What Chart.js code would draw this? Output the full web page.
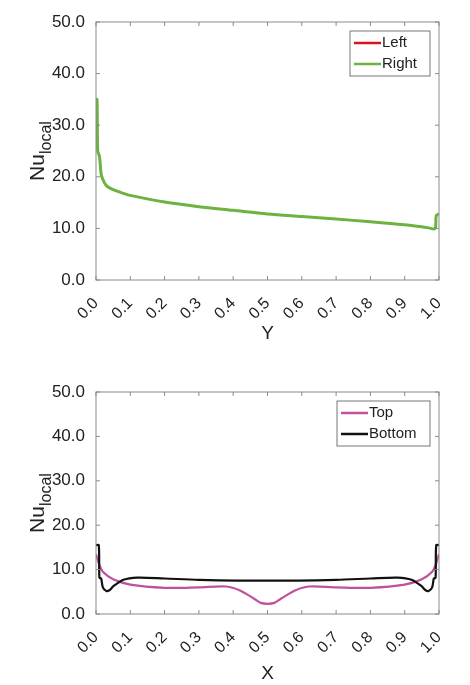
<!DOCTYPE html>
<html>
<head>
<meta charset="utf-8">
<script src="https://cdn.jsdelivr.net/npm/chart.js@4"></script>
<style>
  body { margin: 0; background: #fff; }
  .box { position: absolute; left: 0; width: 470px; }
</style>
</head>
<body>
<div class="box" style="top:0;height:345px"><canvas id="topChart"></canvas></div>
<div class="box" style="top:360px;height:325px"><canvas id="bottomChart"></canvas></div>
<script>
// Vertical walls (Y position)
const wallY = [0, 0.003, 0.005, 0.01, 0.015, 0.02, 0.03, 0.05, 0.08, 0.1, 0.2, 0.3, 0.4, 0.5, 0.6, 0.7, 0.8, 0.9, 0.97, 0.985, 0.99, 0.992, 1.0];
const leftNu = [35, 35, 25, 24, 20.5, 19.5, 18.3, 17.5, 16.8, 16.4, 15.1, 14.2, 13.5, 12.8, 12.3, 11.8, 11.3, 10.7, 10.1, 9.9, 10.2, 12.5, 12.8];
const rightNu = [35, 35, 25, 24, 20.5, 19.5, 18.3, 17.5, 16.8, 16.4, 15.1, 14.2, 13.5, 12.8, 12.3, 11.8, 11.3, 10.7, 10.1, 9.9, 10.2, 12.5, 12.8];

// Horizontal walls (X position)
const topX = [0, 0.01, 0.02, 0.05, 0.1, 0.2, 0.3, 0.38, 0.42, 0.46, 0.48, 0.5, 0.52, 0.54, 0.58, 0.62, 0.7, 0.8, 0.9, 0.95, 0.98, 0.99, 1.0];
const topNu = [13.5, 11, 9.5, 7.8, 6.6, 5.9, 6.0, 6.2, 5.3, 3.5, 2.5, 2.3, 2.5, 3.5, 5.3, 6.2, 6.0, 5.9, 6.6, 7.8, 9.5, 11, 13.5];
const bottomX = [0, 0.008, 0.01, 0.015, 0.02, 0.03, 0.04, 0.05, 0.08, 0.12, 0.2, 0.3, 0.5, 0.7, 0.8, 0.88, 0.92, 0.95, 0.96, 0.97, 0.98, 0.985, 0.99, 0.992, 1.0];
const bottomNu = [15.5, 15.5, 8.2, 8, 6, 5.2, 5.4, 6.2, 7.7, 8.2, 8.0, 7.7, 7.5, 7.7, 8.0, 8.2, 7.7, 6.2, 5.4, 5.2, 6, 8, 8.2, 15.5, 15.5];

const FONT = "'Liberation Sans', Arial, sans-serif";

function pts(xs, ys) {
    return xs.map((x, i) => ({ x: x, y: ys[i] }));
}

/**
 * @brief Frame, inner tick marks, y title and legend box.
 */
const decorPlugin = {
    id: 'decor',
    afterDraw(chart, args, opts) {
        const c = chart.ctx;
        const a = chart.chartArea;
        const xs = chart.scales.x, ys = chart.scales.y;
        c.save();
        c.strokeStyle = '#8a8a8a';
        c.lineWidth = 1;
        c.strokeRect(a.left, a.top, a.right - a.left, a.bottom - a.top);
        c.beginPath();
        for (let v = 0; v <= 1.0001; v += 0.1) {
            const p = xs.getPixelForValue(v);
            c.moveTo(p, a.bottom); c.lineTo(p, a.bottom - 4);
            c.moveTo(p, a.top); c.lineTo(p, a.top + 4);
        }
        for (let v = 0; v <= 50; v += 10) {
            const p = ys.getPixelForValue(v);
            c.moveTo(a.left, p); c.lineTo(a.left + 4, p);
            c.moveTo(a.right, p); c.lineTo(a.right - 4, p);
        }
        c.stroke();

        // y title: Nu with subscript "local"
        c.fillStyle = '#222';
        c.translate(44, (a.top + a.bottom) / 2);
        c.rotate(-Math.PI / 2);
        c.font = '21px ' + FONT;
        c.textBaseline = 'alphabetic';
        const w1 = c.measureText('Nu').width;
        c.font = '16px ' + FONT;
        const w2 = c.measureText('local').width;
        const sx = -(w1 + w2) / 2;
        c.font = '21px ' + FONT;
        c.fillText('Nu', sx, 0);
        c.font = '16px ' + FONT;
        c.fillText('local', sx + w1, 7);
        c.restore();

        // legend
        c.save();
        const lx = opts.x, ly = a.top + 9, lw = a.right - 9 - lx, lh = 45;
        c.fillStyle = '#fff';
        c.fillRect(lx, ly, lw, lh);
        c.strokeStyle = '#777';
        c.strokeRect(lx, ly, lw, lh);
        c.font = '15px ' + FONT;
        c.textBaseline = 'middle';
        const shown = chart.data.datasets.slice().sort((p, q) => p.legendIndex - q.legendIndex);
        shown.forEach((ds, i) => {
            const yy = ly + 12 + i * 21;
            c.strokeStyle = ds.borderColor;
            c.lineWidth = 2.5;
            c.beginPath();
            c.moveTo(lx + 4, yy); c.lineTo(lx + 31, yy);
            c.stroke();
            c.fillStyle = '#222';
            c.fillText(ds.label, lx + 32, yy);
        });
        c.restore();
    }
};

function makeChart(id, datasets, xTitle, padTop, xHeight, legendX) {
    return new Chart(document.getElementById(id), {
        type: 'line',
        data: { datasets: datasets },
        plugins: [decorPlugin],
        options: {
            animation: false,
            responsive: true,
            maintainAspectRatio: false,
            layout: { padding: { top: padTop, right: 31, left: 0, bottom: 0 } },
            elements: { point: { radius: 0 }, line: { borderWidth: 2.2, tension: 0.3 } },
            plugins: {
                legend: { display: false },
                tooltip: { enabled: false },
                decor: { x: legendX }
            },
            scales: {
                x: {
                    type: 'linear', min: 0, max: 1,
                    grid: { display: false },
                    border: { display: false },
                    ticks: {
                        stepSize: 0.1, maxRotation: 45, minRotation: 45, padding: 6,
                        color: '#222', font: { family: FONT, size: 16 },
                        callback: v => v.toFixed(1)
                    },
                    title: { display: true, text: xTitle, color: '#222', font: { family: FONT, size: 19 }, padding: 0 },
                    afterFit: s => { s.height = xHeight; }
                },
                y: {
                    min: 0, max: 50,
                    grid: { display: false },
                    border: { display: false },
                    ticks: {
                        stepSize: 10, color: '#222', font: { family: FONT, size: 17 },
                        callback: v => v.toFixed(1)
                    },
                    afterFit: s => { s.width = 96; }
                }
            }
        }
    });
}

makeChart('topChart', [
    { label: 'Left', legendIndex: 0, order: 1, borderWidth: 1.5, data: pts(wallY, leftNu), borderColor: '#e0101a' },
    { label: 'Right', legendIndex: 1, order: 0, borderWidth: 3, data: pts(wallY, rightNu), borderColor: '#6cb33f' }
], 'Y', 22, 65, 350);

makeChart('bottomChart', [
    { label: 'Top', legendIndex: 0, order: 1, data: pts(topX, topNu), borderColor: '#c0509c' },
    { label: 'Bottom', legendIndex: 1, order: 0, data: pts(bottomX, bottomNu), borderColor: '#111' }
], 'X', 32, 71, 337);
</script>
</body>
</html>
